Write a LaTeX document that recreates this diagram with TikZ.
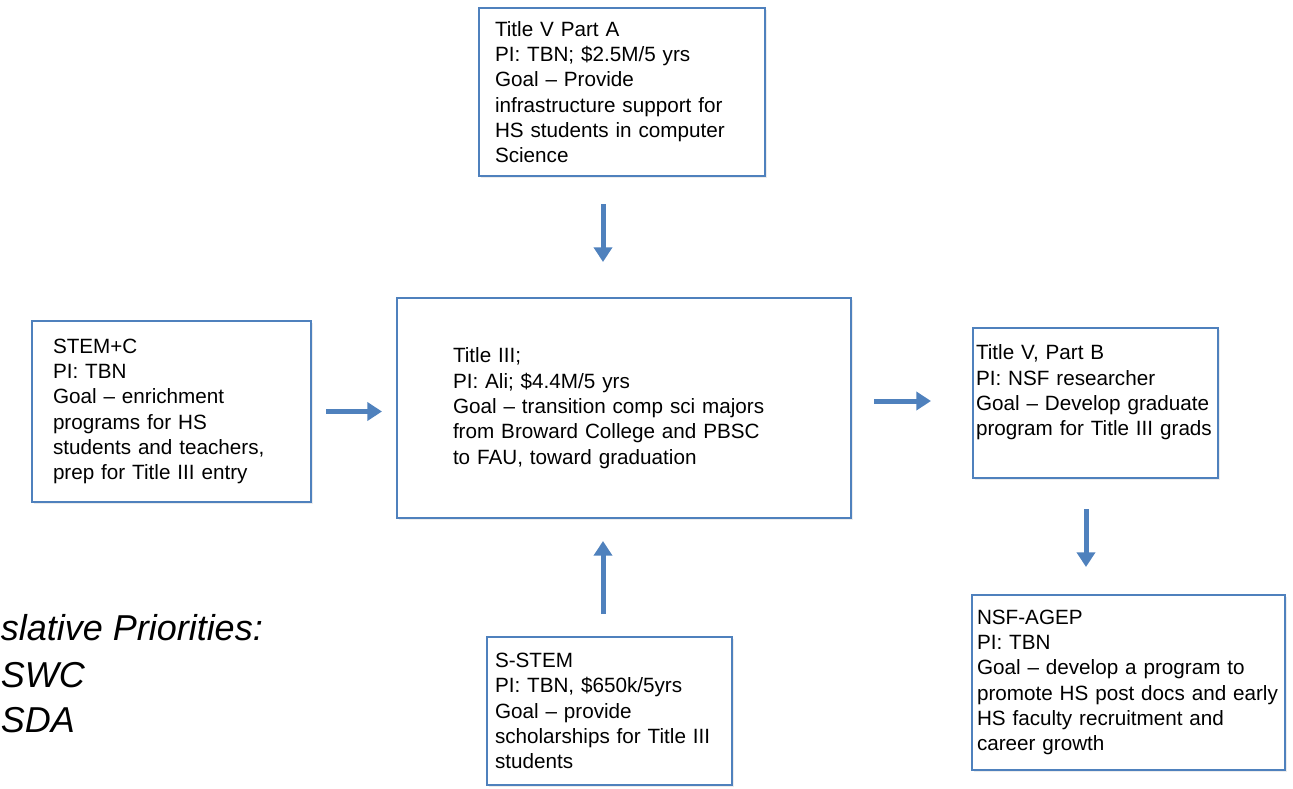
\documentclass[tikz,border=0pt]{standalone}
\usepackage{fontspec}
\setmainfont{Liberation Sans}
\usetikzlibrary{arrows.meta,shadows}
\definecolor{boxblue}{HTML}{4F81BD}

\begin{document}
\begin{tikzpicture}[x=0.75pt,y=-0.75pt]
\tikzstyle{block} = [rectangle, draw=boxblue, line width=1.5pt, fill=white,
drop shadow={opacity=0.15, shadow xshift=1.5pt, shadow yshift=-1.5pt},
align=left, font=\fontsize{15.5}{19}\selectfont]
\tikzstyle{line} = [draw=boxblue, line width=3.75pt, -{Triangle[length=11pt,width=13.5pt]}];
\tikzstyle{priority} = [anchor=base west, inner sep=0pt, font=\fontsize{27}{34.5}\selectfont\itshape];

\useasboundingbox (0,0) rectangle (1293,789);

% top
\node [block, text width=190.5pt, inner xsep=12pt, minimum height=126pt] (partA) at (622,92)
{Title V Part A\\ PI: TBN; \$2.5M/5 yrs\\ Goal -- Provide\\ infrastructure support for\\ HS students in computer\\ Science};
% middle row
\node [block, text width=177.75pt, inner xsep=15.75pt, minimum height=135.75pt] (stem) at (171.5,411.5)
{STEM+C\\ PI: TBN\\ Goal -- enrichment\\ programs for HS\\ students and teachers,\\ prep for Title III entry};
\node [block, text width=256.5pt, inner xsep=42pt, minimum height=165pt] (title3) at (624,408)
{Title III;\\ PI: Ali; \$4.4M/5 yrs\\ Goal -- transition comp sci majors\\ from Broward College and PBSC\\ to FAU, toward graduation};
\node [block, text width=179.25pt, inner xsep=2.25pt, minimum height=112.5pt] (partB) at (1095.5,403)
{Title V, Part B\\ PI: NSF researcher\\ Goal -- Develop graduate\\ program for Title III grads\\ \mbox{}};
% bottom
\node [block, text width=171.75pt, inner xsep=6pt, minimum height=111pt] (sstem) at (609.5,711)
{S-STEM\\ PI: TBN, \$650k/5yrs\\ Goal -- provide\\ scholarships for Title III\\ students};
\node [block, text width=227.25pt, inner xsep=3.75pt, minimum height=131.25pt] (agep) at (1128.5,682.5)
{NSF-AGEP\\ PI: TBN\\ Goal -- develop a program to\\ promote HS post docs and early\\ HS faculty recruitment and\\ career growth};

% priorities
\node [priority] (prio) at (0.5,640) {slative Priorities:};
\node [priority] (swc) at (0.5,687) {SWC};
\node [priority] (sda) at (0.5,732) {SDA};

\path [line, shorten <=20.25pt, shorten >=26.25pt] ([xshift=-14.25pt]partA.south) -- ([xshift=-15.75pt]title3.north);
\path [line, shorten <=10.5pt, shorten >=10.5pt] (stem.east) -- (stem.east -| title3.west);
\path [line, shorten <=16.5pt, shorten >=30.75pt] ([yshift=5.25pt]title3.east) -- ([yshift=5.25pt]title3.east -| partB.west);
\path [line, shorten <=22.5pt, shorten >=20.25pt] ([xshift=-7.125pt]partB.south) -- ([xshift=-7.125pt]partB.south |- agep.north);
\path [line, shorten <=16.5pt, shorten >=16.5pt] ([xshift=-4.875pt]sstem.north) -- ([xshift=-4.875pt]sstem.north |- title3.south);

\end{tikzpicture}
\end{document}
